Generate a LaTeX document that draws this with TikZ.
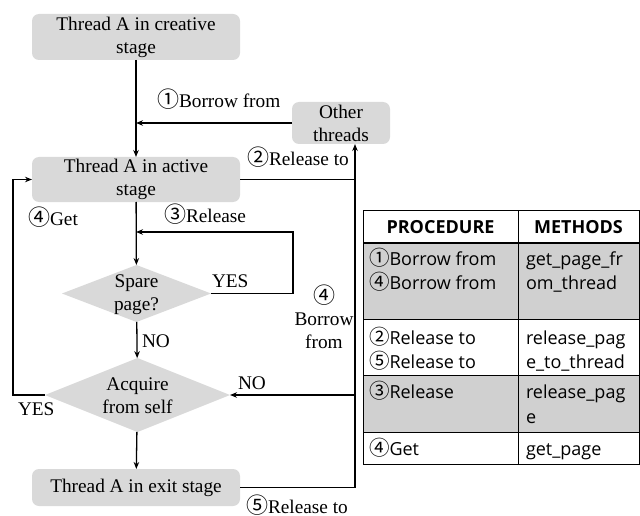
\documentclass[tikz,border=0pt]{standalone}
\usepackage{fontspec}
\setmainfont{Liberation Serif}
\newfontfamily\cjk{Noto Sans CJK SC}
\newfontfamily\tabsans{Open Sans}
% circled step numbers, in the flow chart and in the table
\newcommand\flownum[1]{{\cjk\fontsize{22}{23}\selectfont #1}}
\newcommand\tabnum[1]{{\cjk\fontsize{20.5}{20}\selectfont #1}}
\usetikzlibrary{arrows.meta,shapes.geometric}
\definecolor{boxgray}{HTML}{D9D9D9}
\definecolor{rowgray}{HTML}{D0D0D0}
\begin{document}
\begin{tikzpicture}[x=1pt,y=-1pt,
  every node/.style={inner sep=0pt,outer sep=0pt},
  flowfont/.style={font=\fontsize{19.3}{23}\selectfont},
  stagebox/.style={flowfont,fill=boxgray,rounded corners=7pt,align=center,
    minimum width=208pt,minimum height=46pt},
  decision/.style={diamond,fill=boxgray},
  dtext/.style={flowfont,align=center},
  lbl/.style={flowfont,anchor=base west},
  arr/.style={line width=1.3pt,-{Stealth[length=7pt,width=5.5pt]}},
  wire/.style={line width=1.3pt},
  tabfont/.style={font=\tabsans\fontsize{18}{20}\selectfont},
  cell/.style={tabfont,anchor=base west},
]
\useasboundingbox (0,0) rectangle (640,516);

% ---- flow chart nodes ----
\node[stagebox] (creative) at (136,37) {Thread A in creative\\stage};
\node[stagebox,minimum width=98pt,minimum height=42pt] (other) at (341,123)
  {Other\\threads};
\node[stagebox,minimum height=45pt] (active) at (136,179.5)
  {Thread A in active\\stage};
\node[decision,minimum width=149pt,minimum height=57pt] (spare) at (136.5,293.5) {};
\node[dtext] (sparetxt) at (136.5,295) {Spare\\page?};
\node[decision,minimum width=185pt,minimum height=74pt] (acq) at (137.5,395) {};
\node[dtext] (acqtxt) at (137.5,396) {Acquire\\from self};
\node[stagebox,minimum height=37pt] (exit) at (136,487.5) {Thread A in exit stage};

% ---- routing points ----
\coordinate (xbus) at (355,0);
\coordinate (loopR) at (293,232);
\coordinate (loopL) at (13,0);

% ---- connectors ----
\draw[arr] (creative) -- (active);
\draw[arr] (other.west) -- (other.west -| creative.south);
\draw[arr] (active.east) -| (other.south -| xbus);
\draw[wire] (exit.east) -| (xbus |- active.east);
\draw[arr] (xbus |- acq.east) -- (acq.east);
\draw[arr] (active) -- (spare);
\draw[arr] (spare.east) -| (loopR) -- (loopR -| active.south);
\draw[arr] (spare) -- (acq);
\draw[arr] (acq.west) -- (acq.west -| loopL) |- (active.west);
\draw[arr] (acq) -- (exit);

% ---- connector labels ----
\node[lbl] (l1) at (157,108) {\flownum{①}Borrow from};
\node[lbl] (l2) at (247,166) {\flownum{②}Release to};
\node[lbl] (l3) at (164,222) {\flownum{③}Release};
\node[lbl] (l4) at (28,225) {\flownum{④}Get};
\node[lbl] (yes1) at (212,287) {YES};
\node[flowfont] (n4) at (324,295) {\flownum{④}};
\node[flowfont,anchor=base] (n4b) at (324,325) {Borrow};
\node[flowfont,anchor=base] (n4c) at (324,348) {from};
\node[lbl] (no1) at (142,347) {NO};
\node[lbl] (no2) at (238,389) {NO};
\node[lbl] (yes2) at (18,415) {YES};
\node[lbl] (l5) at (246,513) {\flownum{⑤}Release to};

% ---- procedure / methods table ----
\fill[rowgray] (363,243) rectangle (639,319);
\fill[rowgray] (363,375) rectangle (639,432);
\draw[line width=0.9pt] (363,210) rectangle (639,464);
\draw[line width=1.4pt] (363,243) -- (639,243);
\draw[line width=0.9pt] (363,319) -- (639,319);
\draw[line width=0.9pt] (363,375) -- (639,375);
\draw[line width=0.9pt] (363,432) -- (639,432);
\draw[line width=0.9pt] (518,210) -- (518,464);

\node[tabfont,anchor=base] (hp) at (440.5,233) {\bfseries PROCEDURE};
\node[tabfont,anchor=base] (hm) at (578.5,233) {\bfseries METHODS};

\node[cell] (p1a) at (369,265) {\tabnum{①}Borrow from};
\node[cell] (p1b) at (369,289) {\tabnum{④}Borrow from};
\node[cell] (m1a) at (526,265) {get\_page\_fr};
\node[cell] (m1b) at (526,289) {om\_thread};

\node[cell] (p2a) at (369,344) {\tabnum{②}Release to};
\node[cell] (p2b) at (369,368) {\tabnum{⑤}Release to};
\node[cell] (m2a) at (526,344) {release\_pag};
\node[cell] (m2b) at (526,368) {e\_to\_thread};

\node[cell] (p3a) at (369,398) {\tabnum{③}Release};
\node[cell] (m3a) at (526,398) {release\_pag};
\node[cell] (m3b) at (526,423) {e};

\node[cell] (p4a) at (369,455) {\tabnum{④}Get};
\node[cell] (m4a) at (526,455) {get\_page};
\end{tikzpicture}
\end{document}
